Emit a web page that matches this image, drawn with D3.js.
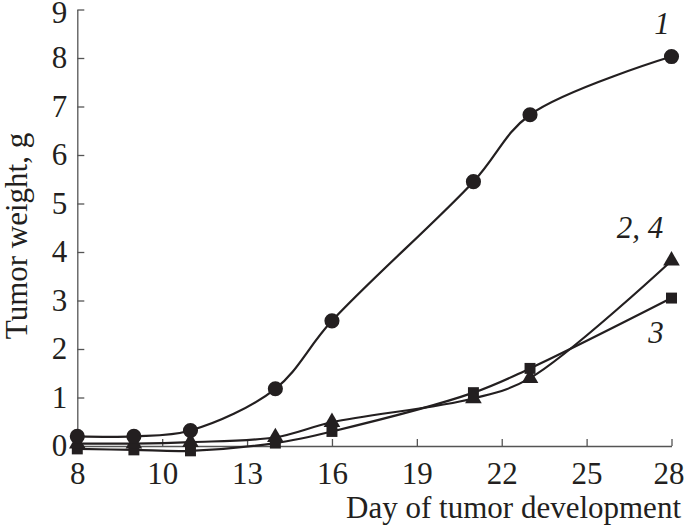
<!DOCTYPE html>
<html>
<head>
<meta charset="utf-8">
<script src="https://cdn.jsdelivr.net/npm/d3@7"></script>
<style>
  body { margin: 0; background: #fff; }
  text { font-family: "Liberation Serif", "Times New Roman", serif; fill: #231f20; }
</style>
</head>
<body>
<div id="chart"></div>
<script>
// data
const days = [8, 9, 11, 14, 16, 21, 23, 28];
const series1 = [0.2, 0.2, 0.32, 1.18, 2.58, 5.45, 6.83, 8.03];   // circles, "1"
const series24 = [0.05, 0.05, 0.08, 0.18, 0.49, 0.98, 1.4, 3.82]; // triangles, "2, 4"
const series3 = [-0.06, -0.08, -0.1, 0.06, 0.3, 1.1, 1.6, 3.05];  // squares, "3"
const xTicks = [8, 10, 13, 16, 19, 22, 25, 28];
const yTicks = [0, 1, 2, 3, 4, 5, 6, 7, 8, 9];

const config = {
  width: 685,
  height: 527,
  left: 77.3,
  right: 671.5,
  top: 9.5,
  bottom: 446,
  fontSize: 31,
  ink: "#231f20"
};

const svg = d3.select("#chart")
  .append("svg")
  .attr("width", config.width)
  .attr("height", config.height);

// the original axis runs in 3-day steps from the origin, but the first tick is labelled 8,
// so the first segment (8 -> 9) takes up two day widths
const dayW = (config.right - config.left) / 21;
const x = d3.scaleLinear()
  .domain([8, 9, 28])
  .range([config.left, config.left + 2 * dayW, config.right]);

const y = d3.scaleLinear()
  .domain([0, 9])
  .range([config.bottom, config.top]);

// axes
const xAxis = d3.axisBottom(x)
  .tickValues(xTicks)
  .tickSizeInner(-7)
  .tickSizeOuter(0)
  .tickPadding(16)
  .tickFormat(d3.format("d"));

const yAxis = d3.axisLeft(y)
  .tickValues(yTicks)
  .tickSizeInner(-7)
  .tickSizeOuter(0)
  .tickPadding(10)
  .tickFormat(d3.format("d"));

const gx = svg.append("g")
  .attr("transform", "translate(0," + config.bottom + ")")
  .call(xAxis);

const gy = svg.append("g")
  .attr("transform", "translate(" + config.left + ",0)")
  .call(yAxis);

[gx, gy].forEach((g) => {
  g.select(".domain").attr("stroke", "#555").attr("stroke-width", 1.3);
  g.selectAll(".tick line").attr("stroke", "#555").attr("stroke-width", 1.3);
  g.selectAll(".tick text")
    .attr("font-family", "Liberation Serif")
    .attr("font-size", config.fontSize)
    .attr("fill", config.ink);
});
// keep the end labels inside the page
gx.selectAll(".tick text").filter((d) => d === 28).attr("dx", -3);
gy.selectAll(".tick text").filter((d) => d === 9).attr("dy", "0.42em");

// axis titles
svg.append("text")
  .attr("x", 681)
  .attr("y", 518)
  .attr("text-anchor", "end")
  .attr("font-size", config.fontSize)
  .text("Day of tumor development");

svg.append("text")
  .attr("transform", "translate(27,236) rotate(-90)")
  .attr("text-anchor", "middle")
  .attr("font-size", config.fontSize)
  .text("Tumor weight, g");

// lines
const line = d3.line()
  .x((d) => x(d[0]))
  .y((d) => y(d[1]))
  .curve(d3.curveCatmullRom.alpha(0.5));

const allSeries = [
  { values: series3, marker: "square" },
  { values: series24, marker: "triangle" },
  { values: series1, marker: "circle" }
];

allSeries.forEach((s) => {
  const pts = days.map((d, i) => [d, s.values[i]]);

  svg.append("path")
    .datum(pts)
    .attr("fill", "none")
    .attr("stroke", config.ink)
    .attr("stroke-width", 2.2)
    .attr("d", line);

  const symbolType = s.marker === "circle" ? d3.symbolCircle
    : s.marker === "square" ? d3.symbolSquare
    : d3.symbolTriangle;
  const size = s.marker === "circle" ? 180 : 120;

  svg.append("g")
    .selectAll("path")
    .data(pts)
    .enter()
    .append("path")
    .attr("transform", (d) => "translate(" + x(d[0]) + "," + y(d[1]) + ")")
    .attr("d", d3.symbol().type(symbolType).size(size))
    .attr("fill", config.ink);
});

// series labels
const labels = [
  { text: "1", x: 662, y: 34 },
  { text: "2, 4", x: 640, y: 238 },
  { text: "3", x: 656, y: 343 }
];

svg.selectAll(".series-label")
  .data(labels)
  .enter()
  .append("text")
  .attr("class", "series-label")
  .attr("x", (d) => d.x)
  .attr("y", (d) => d.y)
  .attr("text-anchor", "middle")
  .attr("font-size", config.fontSize)
  .attr("font-style", "italic")
  .text((d) => d.text);
</script>
</body>
</html>
